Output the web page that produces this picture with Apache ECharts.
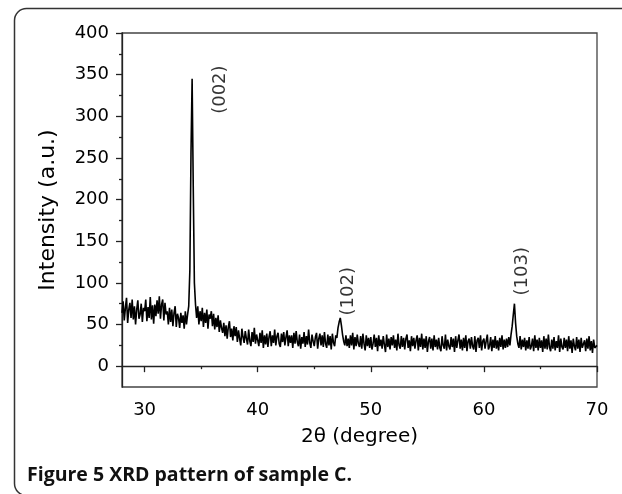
<!DOCTYPE html>
<html>
<head>
<meta charset="utf-8">
<script src="https://cdn.jsdelivr.net/npm/echarts@6/dist/echarts.min.js"></script>
<style>html,body{margin:0;padding:0;background:#fff}#c{width:622px;height:494px}</style>
</head>
<body>
<div id="c"></div>
<script>
// ---- data ----
const angleStart = 28;      // 2theta of the first sample (degree)
const angleStep = 0.1;      // sampling step (degree)
const intensity = [
  64,78,55,70,82,52,68,76,58,80,   // 28.x
  56,72,50,68,79,57,62,75,53,70,   // 29.x
  66,80,54,71,58,83,56,73,51,74,   // 30.x
  60,79,63,84,57,74,80,55,76,62,   // 31.x
  66,50,70,53,68,48,64,72,47,63,   // 32.x
  58,46,64,52,61,45,66,50,62,72,   // 33.x
  115,255,345,215,100,74,58,72,50,66, // 34.x
  54,70,47,64,52,68,45,62,57,66,   // 35.x
  48,63,44,58,47,61,41,55,46,40,   // 36.x
  52,36,49,33,47,54,35,45,31,48,   // 37.x
  36,47,29,43,33,25,45,35,28,42,   // 38.x
  33,26,44,30,24,41,29,46,27,38,   // 39.x
  31,24,40,28,43,22,37,26,39,23,   // 40.x
  35,42,24,37,28,44,25,36,40,27,   // 41.x
  23,39,29,41,25,35,43,24,37,28,   // 42.x
  37,22,40,27,42,29,24,38,21,35,   // 43.x
  27,41,23,36,26,44,28,22,38,30,   // 44.x
  24,35,40,21,33,39,25,37,23,41,   // 45.x
  27,22,38,25,36,20,39,28,24,37,   // 46.x
  34,46,53,58,49,38,30,25,37,24,   // 47.x
  33,22,37,25,40,20,35,24,38,27,   // 48.x
  23,36,21,39,27,19,37,24,34,22,   // 49.x
  35,20,27,38,23,34,18,37,24,32,   // 50.x
  21,36,26,17,38,23,33,20,35,25,   // 51.x
  37,22,32,19,39,25,21,36,23,34,   // 52.x
  20,33,38,22,31,18,36,24,34,21,   // 53.x
  31,37,19,34,23,39,20,33,22,36,   // 54.x
  17,30,35,21,33,19,37,23,32,20,   // 55.x
  34,22,18,36,25,21,38,19,32,24,   // 56.x
  20,35,23,33,17,36,22,31,38,21,   // 57.x
  32,19,34,22,37,18,30,33,21,35,   // 58.x
  24,20,36,17,31,34,22,37,19,30,   // 59.x
  33,21,30,38,20,24,35,18,32,22,   // 60.x
  36,21,31,19,34,23,37,20,32,22,   // 61.x
  33,23,35,25,38,48,62,75,52,36,   // 62.x
  27,22,36,20,32,23,34,19,31,21,   // 63.x
  35,20,24,33,18,37,22,32,19,34,   // 64.x
  22,31,17,36,21,33,20,38,23,18,   // 65.x
  32,21,35,19,30,22,37,17,33,23,   // 66.x
  20,34,22,32,18,36,21,31,16,33,   // 67.x
  24,19,35,21,32,17,34,22,20,31,   // 68.x
  18,33,21,36,19,30,16,32,22,20,   // 69.x
  25                               // 70.0
];
const peakNames = ['(002)', '(102)', '(103)'];
const peakLabelX = [36.7, 48.0, 63.4];
const peakLabelY = [332, 90, 114];

const xMajorTicks = [30, 40, 50, 60, 70];
const xMinorTicks = [35, 45, 55, 65];
const yMajorTicks = [0, 50, 100, 150, 200, 250, 300, 350, 400];
const yMinorTicks = [25, 75, 125, 175, 225, 275, 325, 375];

const xName = '2θ (degree)';
const yName = 'Intensity (a.u.)';
const caption = 'Figure 5 XRD pattern of sample C.';

// ---- build ----
const pattern = intensity.map((v, i) => [+(angleStart + i * angleStep).toFixed(2), v]);
const peakData = peakNames.map((n, i) => [peakLabelX[i], peakLabelY[i], n]);

const FONT = '"DejaVu Sans", "Liberation Sans", Arial, sans-serif';
const axisColor = '#222';

const chart = echarts.init(document.getElementById('c'), null, { renderer: 'canvas' });
chart.setOption({
  animation: false,
  backgroundColor: '#fff',
  grid: { left: 122, right: 25, top: 33, bottom: 107, show: true, borderColor: '#444', borderWidth: 1.3, backgroundColor: 'transparent' },
  xAxis: [{
    type: 'value', min: 28, max: 70, position: 'bottom',
    name: xName, nameLocation: 'middle', nameGap: 40,
    nameTextStyle: { fontFamily: FONT, fontSize: 20, color: '#000' },
    axisLine: { show: true, lineStyle: { color: axisColor, width: 1.3 } },
    axisTick: { show: true, length: 6, lineStyle: { color: axisColor, width: 1.3 }, customValues: xMajorTicks },
    axisLabel: { fontFamily: FONT, fontSize: 18, color: '#000', margin: 14, customValues: xMajorTicks },
    splitLine: { show: false }
  }, {
    type: 'value', min: 28, max: 70, position: 'bottom', gridIndex: 0,
    axisLine: { show: false },
    axisTick: { show: true, length: 3, lineStyle: { color: axisColor, width: 1.3 }, customValues: xMinorTicks },
    axisLabel: { show: false },
    splitLine: { show: false }
  }],
  yAxis: [{
    type: 'value', min: -25, max: 400, position: 'left',
    name: yName, nameLocation: 'middle', nameGap: 63, nameRotate: 90,
    nameTextStyle: { fontFamily: FONT, fontSize: 22, color: '#000' },
    axisLine: { show: true, lineStyle: { color: axisColor, width: 1.3 } },
    axisTick: { show: true, length: 6, lineStyle: { color: axisColor, width: 1.3 }, customValues: yMajorTicks },
    axisLabel: { fontFamily: FONT, fontSize: 18, color: '#000', margin: 13, customValues: yMajorTicks },
    splitLine: { show: false }
  }, {
    type: 'value', min: -25, max: 400, position: 'left', gridIndex: 0,
    axisLine: { show: false },
    axisTick: { show: true, length: 3, lineStyle: { color: axisColor, width: 1.3 }, customValues: yMinorTicks },
    axisLabel: { show: false },
    splitLine: { show: false }
  }],
  series: [{
    type: 'line', xAxisIndex: 0, yAxisIndex: 0,
    data: pattern, showSymbol: false, symbol: 'none',
    lineStyle: { color: '#000', width: 1.6 },
    z: 3
  }, {
    type: 'scatter', xAxisIndex: 0, yAxisIndex: 0,
    data: peakData, symbolSize: 0,
    label: {
      show: true, position: 'inside', rotate: 90,
      formatter: p => p.data[2],
      fontFamily: FONT, fontSize: 18, color: '#000'
    },
    z: 4
  }],
  graphic: [{
    type: 'rect', left: 12, top: 6,
    shape: { x: 0, y: 0, width: 640, height: 487, r: 12 },
    style: { fill: 'none', stroke: '#333', lineWidth: 1.5 },
    silent: true
  }, {
    type: 'text', left: 27, top: 465,
    style: { text: caption, fontFamily: '"Open Sans", "Noto Sans", sans-serif', fontWeight: 'bold', fontSize: 19.5, fill: '#111' }
  }]
});
</script>
</body>
</html>
